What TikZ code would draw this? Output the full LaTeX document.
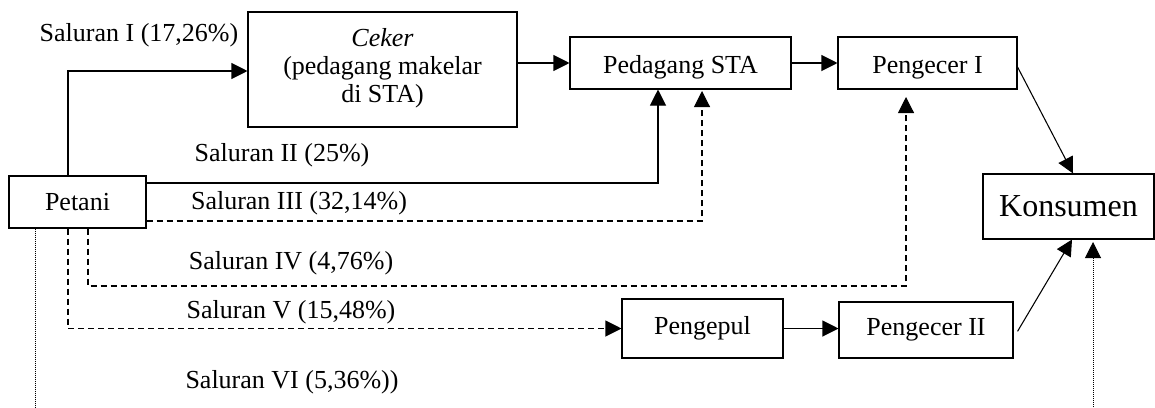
\documentclass[tikz,border=0pt]{standalone}
\usepackage{fontspec}
\setmainfont{Liberation Serif}
\usetikzlibrary{arrows.meta}
\begin{document}
\begin{tikzpicture}[x=0.75pt,y=-0.75pt,
  box/.style={draw,line width=0.8pt,rectangle,inner sep=0pt,font=\fontsize{19.5}{21}\selectfont},
  lbl/.style={inner sep=0pt,font=\fontsize{19.5}{21}\selectfont},
  conn/.style={line width=0.8pt},
  arr/.style={conn,-{Triangle[length=12pt,width=12pt]}},
  dsh/.style={dash pattern=on 4.5pt off 3pt},
  dot/.style={dash pattern=on 0.75pt off 0.75pt, line width=0.7pt}]
\useasboundingbox (0,0) rectangle (1155,407);
% boxes
\node[box,align=center,minimum width=201.75pt,minimum height=86.25pt] (ceker) at (382.5,69.5) {\textit{Ceker}\\(pedagang makelar\\di STA)\rule[-6pt]{0pt}{6pt}};
\node[box,minimum width=165.75pt,minimum height=39pt,text height=15pt,text depth=0pt] (psta) at (680.5,63) {Pedagang STA};
\node[box,minimum width=134.25pt,minimum height=39pt,text height=15pt,text depth=0pt] (pi) at (927.5,63) {Pengecer I};
\node[box,minimum width=128.25pt,minimum height=48.75pt,font=\fontsize{24}{26}\selectfont] (kons) at (1068.5,206.5) {Konsumen};
\node[box,minimum width=102.75pt,minimum height=39pt] (petani) at (77.5,202) {Petani};
\node[box,minimum width=120.75pt,minimum height=44.25pt] (pengepul) at (702.5,328.5) {Pengepul};
\node[box,minimum width=130.5pt,minimum height=42pt] (pii) at (926,330) {Pengecer II};
% labels
\node[lbl] (s1) at (139,35) {Saluran I (17,26\%)};
\node[lbl] (s2) at (282,155) {Saluran II (25\%)};
\node[lbl] (s3) at (299,203) {Saluran III (32,14\%)};
\node[lbl] (s4) at (291,263) {Saluran IV (4,76\%)};
\node[lbl] (s5) at (291,312) {Saluran V (15,48\%)};
\node[lbl] (s6) at (292,382) {Saluran VI (5,36\%))};
% helper coordinates
\coordinate (c1) at (68,71);
\coordinate (c2) at (658,183);
\coordinate (c3) at (702,221);
\coordinate (c3t) at (702,91);
\coordinate (c4s) at (88,0);
\coordinate (c4) at (906,286);
\coordinate (c4t) at (906,97);
\coordinate (k1) at (1073,0);
\coordinate (k2) at (1072,0);
\coordinate (c6a) at (35,407);
\coordinate (c6b) at (1093,407);
\coordinate (c6t) at (1093,242);
% connectors
\draw[arr] (petani.north -| c1) |- (ceker.west |- c1);
\draw[arr] (ceker.east |- psta.west) -- (psta.west);
\draw[arr] (psta.east) -- (pi.west);
\draw[arr] ([yshift=-3pt]pi.east) -- (kons.north -| k1);
\draw[arr] (petani.east |- c2) -| (psta.south -| c2);
\draw[arr,dsh] (petani.east |- c3) -| (c3t);
\draw[arr,dsh] (petani.south -| c4s) |- (c4) -- (c4t);
\draw[arr,dsh] (petani.south -| c1) |- (pengepul.west);
\draw[arr] (pengepul.east) -- (pengepul.east -| pii.west);
\draw[arr] ([xshift=3pt,yshift=-1pt]pii.east) -- (kons.south -| k2);
\draw[conn,dot] (petani.south -| c6a) -- (c6a);
\draw[arr,dot] (c6b) -- (c6t);
\end{tikzpicture}
\end{document}
